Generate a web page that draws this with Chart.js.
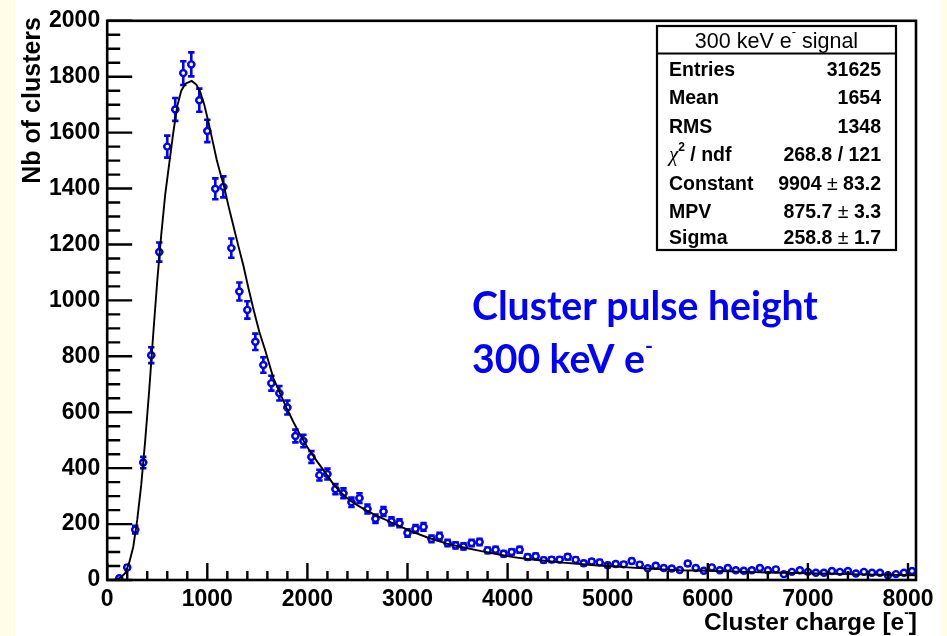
<!DOCTYPE html>
<html>
<head>
<meta charset="utf-8">
<script src="https://cdn.jsdelivr.net/npm/chart.js@4.4.1/dist/chart.umd.min.js"></script>
<style>
  html, body { margin: 0; padding: 0; background: #ffffff; }
  canvas { display: block; }
</style>
</head>
<body>
<canvas id="c" width="947" height="636"></canvas>
<script>
// Histogram bin centres (80 e- wide bins, 0 .. 8080)
const binCenters = [
  40,120,200,280,360,440,520,600,680,760,
  840,920,1000,1080,1160,1240,1320,1400,1480,1560,
  1640,1720,1800,1880,1960,2040,2120,2200,2280,2360,
  2440,2520,2600,2680,2760,2840,2920,3000,3080,3160,
  3240,3320,3400,3480,3560,3640,3720,3800,3880,3960,
  4040,4120,4200,4280,4360,4440,4520,4600,4680,4760,
  4840,4920,5000,5080,5160,5240,5320,5400,5480,5560,
  5640,5720,5800,5880,5960,6040,6120,6200,6280,6360,
  6440,6520,6600,6680,6760,6840,6920,7000,7080,7160,
  7240,7320,7400,7480,7560,7640,7720,7800,7880,7960,
  8040
];
// Number of clusters in each bin
const binCounts = [
  null,6,45,180,420,804,1173,1550,1683,1813,
  1844,1716,1606,1399,1406,1187,1032,966,852,769,
  704,668,617,515,497,440,375,379,325,310,
  278,293,254,219,245,210,203,168,183,190,
  147,156,132,124,120,132,136,106,108,94,
  100,108,82,85,71,73,73,83,72,60,
  66,63,53,57,56,68,55,42,51,43,
  41,36,59,43,33,45,35,43,35,33,
  35,43,35,38,21,29,35,29,26,26,
  32,29,32,23,29,26,26,17,21,26,
  32
];
const binHalfWidth = 40;

// Landau fit curve, sampled as a polyline
const fitX = [60,100,140,180,220,260,300,340,380,420,460,500,540,580,620,660,700,740,780,844,
  890,930,970,1010,1050,1094,1130,1167,1210,1261,1310,1361,1410,1460,1520,1580,1660,1730,1793,1860,
  1926,2000,2093,2180,2259,2340,2426,2510,2593,2680,2760,2840,2926,3058,3200,3392,3550,3725,3900,4057,
  4200,4391,4550,4724,4900,5057,5200,5390,5550,5722,6000,6300,6600,7000,7500,8080];
const fitY = [0,3,10,25,62,118,215,340,500,680,880,1070,1235,1380,1490,1600,1695,1750,1775,1785,
  1772,1745,1700,1640,1575,1503,1455,1408,1340,1266,1195,1124,1045,970,887,820,722,665,615,565,
  520,475,426,383,343,311,284,265,248,232,219,205,192,171,152,130,117,104,92,82,
  75,68,62,57,52,49,45,41,38,35,33,30,27,24,20,17];

// Axis ticks
const xTickValues = [0,1000,2000,3000,4000,5000,6000,7000,8000];
const xTickLabels = ['0','1000','2000','3000','4000','5000','6000','7000','8000'];
const yTickValues = [0,200,400,600,800,1000,1200,1400,1600,1800,2000];
const yTickLabels = ['0','200','400','600','800','1000','1200','1400','1600','1800','2000'];

// Statistics box rows
const statLabels = ['Entries','Mean','RMS','CHI','Constant','MPV','Sigma'];
const statValues = ['31625','1654','1348','268.8 / 121','9904 \u00b1 83.2','875.7 \u00b1 3.3','258.8 \u00b1 1.7'];

const SANS = '"Liberation Sans", Arial, sans-serif';
const BLUE = '#0000ff';

const pointData = binCenters.map((x, i) => ({ x: x, y: binCounts[i] }));
const fitData = fitX.map((x, i) => ({ x: x, y: fitY[i] }));

function richWidth(ctx, parts) {
  let w = 0;
  for (const p of parts) { ctx.font = p.font; w += ctx.measureText(p.t).width; }
  return w;
}
function drawRich(ctx, parts, x, y, align) {
  const w = richWidth(ctx, parts);
  let cx = x;
  if (align === 'right') cx = x - w;
  else if (align === 'center') cx = x - w / 2;
  ctx.textAlign = 'left';
  ctx.textBaseline = 'alphabetic';
  for (const p of parts) {
    ctx.font = p.font;
    ctx.fillText(p.t, cx, y + (p.dy || 0));
    cx += ctx.measureText(p.t).width;
  }
}

const backgroundPlugin = {
  id: 'pageBackground',
  beforeDraw(chart) {
    const ctx = chart.ctx;
    ctx.save();
    ctx.fillStyle = '#ffffff';
    ctx.fillRect(0, 0, chart.width, chart.height);
    ctx.fillStyle = '#fffde6';
    ctx.fillRect(0, 0, 15, chart.height);
    ctx.fillRect(941, 0, chart.width - 941, chart.height);
    ctx.restore();
  }
};

// Vertical (sqrt N) and horizontal (bin width) error bars
const errorBarPlugin = {
  id: 'errorBars',
  beforeDatasetsDraw(chart) {
    const ctx = chart.ctx;
    const xs = chart.scales.x, ys = chart.scales.y;
    const a = chart.chartArea;
    ctx.save();
    ctx.beginPath();
    ctx.rect(a.left, a.top, a.right - a.left, a.bottom - a.top);
    ctx.clip();
    ctx.strokeStyle = BLUE;
    ctx.lineWidth = 2.6;
    for (let i = 0; i < binCenters.length; i++) {
      const n = binCounts[i];
      if (n === null) continue;
      const e = Math.sqrt(n);
      const px = xs.getPixelForValue(binCenters[i]);
      const py = ys.getPixelForValue(n);
      const yHi = ys.getPixelForValue(n + e);
      const yLo = ys.getPixelForValue(Math.max(0, n - e));
      const xL = xs.getPixelForValue(binCenters[i] - binHalfWidth);
      const xR = xs.getPixelForValue(binCenters[i] + binHalfWidth);
      ctx.beginPath();
      ctx.moveTo(px, yHi); ctx.lineTo(px, yLo);
      ctx.moveTo(xL, py); ctx.lineTo(xR, py);
      ctx.moveTo(px - 3.2, yHi); ctx.lineTo(px + 3.2, yHi);
      ctx.moveTo(px - 3.2, yLo); ctx.lineTo(px + 3.2, yLo);
      ctx.stroke();
    }
    ctx.restore();
  }
};

// Frame, inward tick marks and all annotation text
const framePlugin = {
  id: 'frameAndText',
  afterDraw(chart) {
    const ctx = chart.ctx;
    const xs = chart.scales.x, ys = chart.scales.y;
    const a = chart.chartArea;
    ctx.save();
    ctx.strokeStyle = '#000000';
    ctx.lineCap = 'butt';

    // ticks
    ctx.lineWidth = 2.4;
    ctx.beginPath();
    for (let v = 0; v <= 2000; v += 50) {
      const py = ys.getPixelForValue(v);
      const len = (v % 200 === 0) ? 25 : 13;
      ctx.moveTo(a.left, py); ctx.lineTo(a.left + len, py);
    }
    for (let v = 0; v <= 8000; v += 200) {
      const px = xs.getPixelForValue(v);
      const len = (v % 1000 === 0) ? 17 : 9;
      ctx.moveTo(px, a.bottom); ctx.lineTo(px, a.bottom - len);
    }
    ctx.stroke();

    // frame
    ctx.lineWidth = 2.6;
    ctx.strokeRect(a.left, a.top, a.right - a.left, a.bottom - a.top);

    ctx.fillStyle = '#000000';
    // y title, right aligned at the top of the axis
    ctx.save();
    ctx.translate(40, 17);
    ctx.rotate(-Math.PI / 2);
    ctx.font = 'bold 25px ' + SANS;
    ctx.textAlign = 'right';
    ctx.textBaseline = 'alphabetic';
    ctx.fillText('Nb of clusters', 0, 0);
    ctx.restore();

    // x title
    drawRich(ctx, [
      { t: 'Cluster charge [e', font: 'bold 24.5px ' + SANS },
      { t: '-', font: 'bold 14px ' + SANS, dy: -13 },
      { t: ']', font: 'bold 24.5px ' + SANS }
    ], 917, 630, 'right');

    // statistics box
    const bx = 657, by = 26, bw = 239, bh = 224;
    ctx.fillStyle = '#ffffff';
    ctx.fillRect(bx, by, bw, bh);
    ctx.lineWidth = 2.2;
    ctx.strokeRect(bx, by, bw, bh);
    ctx.beginPath();
    ctx.moveTo(bx, 53.5); ctx.lineTo(bx + bw, 53.5);
    ctx.stroke();
    ctx.fillStyle = '#000000';
    drawRich(ctx, [
      { t: '300 keV e', font: '21.5px ' + SANS },
      { t: '-', font: '13px ' + SANS, dy: -12 },
      { t: ' signal', font: '21.5px ' + SANS }
    ], bx + bw / 2, 47.5, 'center');

    const rowY = [76, 104, 132.5, 161, 189.5, 217.5, 244];
    const bold = 'bold 19.5px ' + SANS;
    const reg = '19.5px ' + SANS;
    for (let i = 0; i < statLabels.length; i++) {
      if (statLabels[i] === 'CHI') {
        drawRich(ctx, [
          { t: '\u03c7', font: 'italic 21px "Liberation Serif", serif' },
          { t: '2', font: 'bold 12px ' + SANS, dy: -10 },
          { t: ' / ndf', font: bold }
        ], 669, rowY[i], 'left');
      } else {
        drawRich(ctx, [{ t: statLabels[i], font: bold }], 669, rowY[i], 'left');
      }
      const val = statValues[i];
      const pm = val.indexOf('\u00b1');
      if (pm >= 0) {
        drawRich(ctx, [
          { t: val.slice(0, pm), font: bold },
          { t: '\u00b1', font: reg },
          { t: val.slice(pm + 1), font: bold }
        ], 881, rowY[i], 'right');
      } else {
        drawRich(ctx, [{ t: val, font: bold }], 881, rowY[i], 'right');
      }
    }

    // annotation in blue
    ctx.fillStyle = BLUE;
    ctx.font = 'bold 34px Lato, "Open Sans", sans-serif';
    const size = 34 * 346 / ctx.measureText('Cluster pulse height').width;
    const bigFont = 'bold ' + size.toFixed(2) + 'px Lato, "Open Sans", sans-serif';
    drawRich(ctx, [{ t: 'Cluster pulse height', font: bigFont }], 472, 319.5, 'left');
    drawRich(ctx, [
      { t: '300 keV e', font: bigFont },
      { t: '-', font: 'bold ' + (size * 0.55).toFixed(2) + 'px Lato, "Open Sans", sans-serif', dy: -size * 0.5 }
    ], 472, 373, 'left');

    ctx.restore();
  }
};

new Chart(document.getElementById('c'), {
  type: 'scatter',
  data: {
    datasets: [
      {
        label: 'fit',
        data: fitData,
        showLine: true,
        borderColor: '#000000',
        borderWidth: 1.9,
        pointRadius: 0,
        tension: 0,
        order: 0
      },
      {
        label: 'clusters',
        data: pointData,
        showLine: false,
        pointStyle: 'circle',
        pointRadius: 3,
        pointBorderWidth: 2.4,
        borderColor: BLUE,
        backgroundColor: '#ffffff',
        pointBackgroundColor: '#ffffff',
        pointBorderColor: BLUE,
        order: 1
      }
    ]
  },
  options: {
    responsive: false,
    animation: false,
    events: [],
    layout: { padding: { left: 0, top: 16.7, right: 31, bottom: 0 } },
    plugins: { legend: { display: false }, tooltip: { enabled: false }, title: { display: false } },
    scales: {
      x: {
        type: 'linear',
        min: 0,
        max: 8080,
        afterBuildTicks(scale) { scale.ticks = xTickValues.map(v => ({ value: v })); },
        afterFit(scale) { scale.height = 56; },
        ticks: {
          autoSkip: false,
          maxRotation: 0,
          includeBounds: false,
          padding: 6,
          color: '#000000',
          font: { family: SANS, size: 23, weight: 'bold' },
          callback: (v) => xTickLabels[xTickValues.indexOf(v)]
        },
        grid: { display: false, drawTicks: false },
        border: { display: false }
      },
      y: {
        type: 'linear',
        min: 0,
        max: 2000,
        afterBuildTicks(scale) { scale.ticks = yTickValues.map(v => ({ value: v })); },
        afterFit(scale) { scale.width = 107.2; },
        ticks: {
          autoSkip: false,
          padding: 7,
          color: '#000000',
          font: { family: SANS, size: 23, weight: 'bold' },
          callback: (v) => yTickLabels[yTickValues.indexOf(v)]
        },
        grid: { display: false, drawTicks: false },
        border: { display: false }
      }
    }
  },
  plugins: [backgroundPlugin, errorBarPlugin, framePlugin]
});
</script>
</body>
</html>
